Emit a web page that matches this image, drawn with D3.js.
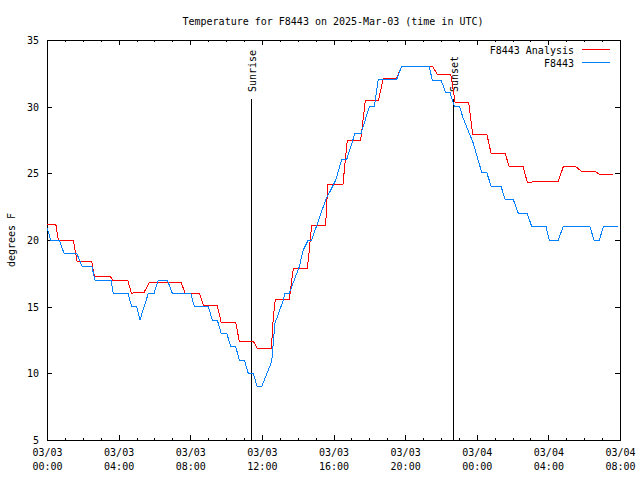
<!DOCTYPE html>
<html>
<head>
<meta charset="utf-8">
<script src="https://cdn.jsdelivr.net/npm/d3@7"></script>
<style>
  html, body { margin: 0; padding: 0; background: #fff; }
  svg text { font-family: "DejaVu Sans Mono", "Liberation Mono", monospace; font-size: 10px; fill: #000; }
</style>
</head>
<body>
<svg id="chart" width="640" height="480"></svg>
<script>
// ---- data (hours after 2025-03-03 00:00 UTC, degrees F) ----
const titleText = "Temperature for F8443 on 2025-Mar-03 (time in UTC)";
const yLabel = "degrees F";
const seriesNames = ["F8443 Analysis", "F8443"];
const seriesColors = ["#ff0000", "#0080ff"];

const analysisHours = [0, 0.49, 0.63, 1.47, 1.68, 2.50, 2.64, 3.52, 3.67, 4.51, 4.71, 5.10, 5.43, 5.71,
  7.50, 7.71, 8.51, 8.73, 9.51, 9.73, 10.54, 10.74, 11.52, 11.74, 12.53, 12.64, 12.75, 13.53, 13.76,
  14.54, 14.63, 14.78, 15.56, 15.68, 16.53, 16.77, 17.52, 17.78, 18.52, 18.78, 19.53, 19.81, 21.52,
  21.78, 22.55, 22.79, 23.55, 23.77, 24.56, 24.80, 25.58, 25.82, 26.60, 26.82, 27.72, 28.55, 28.83,
  29.54, 29.86, 30.60, 30.85, 31.59];
const analysisTemps = [21.2, 21.2, 20.0, 20.0, 18.4, 18.4, 17.3, 17.3, 17.0, 17.0, 16.0, 16.1, 16.1, 16.8,
  16.8, 16.0, 16.0, 15.1, 15.1, 13.8, 13.8, 12.4, 12.4, 11.9, 11.9, 14.2, 15.55, 15.55, 17.9,
  17.9, 19.0, 21.1, 21.1, 24.2, 24.2, 27.5, 27.5, 30.5, 30.5, 32.15, 32.15, 33.05, 33.05,
  32.45, 32.45, 30.35, 30.35, 27.95, 27.95, 26.5, 26.5, 25.48, 25.48, 24.33, 24.4, 24.4, 25.48,
  25.48, 25.15, 25.15, 24.93, 24.93];

const obsHours = [0, 0.21, 0.69, 0.95, 1.66, 1.95, 2.50, 2.68, 3.57, 3.70, 4.52, 4.73, 5.01, 5.19, 5.66,
  5.98, 6.22, 6.72, 7.00, 8.03, 8.23, 9.01, 9.23, 9.51, 9.73, 10.04, 10.26, 10.54, 10.74, 11.02, 11.24,
  11.52, 11.74, 11.99, 12.55, 12.73, 13.20, 13.29, 13.53, 14.09, 14.31, 14.59, 14.78, 15.56, 16.13,
  16.46, 16.74, 17.20, 17.54, 18.00, 18.28, 18.50, 19.53, 19.81, 21.33, 21.52, 22.00, 22.27, 22.51,
  22.75, 23.03, 23.25, 23.81, 24.28, 24.56, 24.80, 25.35, 25.58, 26.04, 26.32, 26.82, 27.07, 27.87,
  28.05, 28.55, 28.83, 30.32, 30.55, 30.85, 31.07, 31.87];
const obsTemps = [20.9, 20.0, 20.0, 19.0, 19.0, 18.05, 18.05, 17.0, 17.0, 16.0, 16.0, 15.0, 15.0, 14.0, 16.0,
  16.0, 17.0, 17.0, 16.0, 16.0, 15.0, 15.0, 14.0, 14.0, 13.0, 13.0, 12.0, 12.0, 11.0, 11.0, 10.0,
  10.0, 9.0, 9.0, 10.9, 13.75, 15.5, 16.0, 16.0, 18.0, 19.25, 20.0, 20.0, 23.0, 24.5,
  26.05, 26.05, 28.0, 28.0, 30.0, 30.0, 32.05, 32.05, 33.05, 33.05, 32.0, 32.0, 31.05, 31.05,
  30.05, 30.05, 29.1, 27.25, 25.05, 25.05, 24.05, 24.05, 23.05, 23.05, 22.0, 22.0, 21.0, 21.0,
  20.0, 20.0, 21.0, 21.0, 20.0, 20.0, 21.0, 21.0];

const eventLabels = ["Sunrise", "Sunset"];
const eventHours = [11.39, 22.70];

const yTicks = [5, 10, 15, 20, 25, 30, 35];
const startMs = Date.UTC(2025, 2, 3, 0, 0);
const endMs = Date.UTC(2025, 2, 4, 8, 0);

// ---- layout ----
const svg = d3.select("#chart");
const L = 47, R = 620, T = 40, B = 440;
const toDate = h => new Date(startMs + h * 3600e3);

const x = d3.scaleUtc().domain([new Date(startMs), new Date(endMs)]).range([L, R]);
const y = d3.scaleLinear().domain([5, 35]).range([B, T]);

const pad = n => String(n).padStart(2, "0");

// minor ticks (hourly) bottom & top
const minorTicks = x.ticks(d3.utcHour.every(1));
const majorTicks = x.ticks(d3.utcHour.every(4));

const gx = svg.append("g").attr("transform", `translate(0,${B})`)
  .call(d3.axisBottom(x).tickValues(minorTicks).tickSize(-2).tickFormat(""));
gx.select(".domain").remove();
const gxt = svg.append("g").attr("transform", `translate(0,${T})`)
  .call(d3.axisTop(x).tickValues(minorTicks).tickSize(-2).tickFormat(""));
gxt.select(".domain").remove();

const gxM = svg.append("g").attr("transform", `translate(0,${B})`)
  .call(d3.axisBottom(x).tickValues(majorTicks).tickSize(-5).tickPadding(0).tickFormat(""));
gxM.select(".domain").remove();
gxM.selectAll(".tick").each(function(d) {
  const t = d3.select(this).append("text").attr("text-anchor", "middle").attr("fill", "#000");
  t.append("tspan").attr("x", 0).attr("y", 16).text(pad(d.getUTCMonth() + 1) + "/" + pad(d.getUTCDate()));
  t.append("tspan").attr("x", 0).attr("y", 30).text(pad(d.getUTCHours()) + ":" + pad(d.getUTCMinutes()));
});
const gxMt = svg.append("g").attr("transform", `translate(0,${T})`)
  .call(d3.axisTop(x).tickValues(majorTicks).tickSize(-5).tickFormat(""));
gxMt.select(".domain").remove();

const gy = svg.append("g").attr("transform", `translate(${L},0)`)
  .call(d3.axisLeft(y).tickValues(yTicks).tickSize(-5).tickPadding(8).tickFormat(d3.format("d")));
gy.select(".domain").remove();
gy.selectAll("text").attr("dy", "0.35em");
const gyr = svg.append("g").attr("transform", `translate(${R},0)`)
  .call(d3.axisRight(y).tickValues(yTicks).tickSize(-5).tickFormat(""));
gyr.select(".domain").remove();

svg.selectAll(".tick line").attr("stroke", "#000").attr("shape-rendering", "crispEdges");
svg.selectAll(".tick text").style("font-family", "'DejaVu Sans Mono', monospace").style("font-size", "10px");

// frame
svg.append("rect").attr("x", L + 0.5).attr("y", T + 0.5).attr("width", R - L).attr("height", B - T)
  .attr("fill", "none").attr("stroke", "#000").attr("shape-rendering", "crispEdges");

// sunrise / sunset
eventHours.forEach((h, i) => {
  const ex = Math.round(x(toDate(h))) + 0.5;
  svg.append("line").attr("x1", ex).attr("x2", ex).attr("y1", 99).attr("y2", B)
    .attr("stroke", "#000").attr("shape-rendering", "crispEdges");
  svg.append("text").attr("transform", `translate(${ex + 1},92) rotate(-90)`)
    .attr("text-anchor", "start").attr("dominant-baseline", "central").text(eventLabels[i]);
});

// series
const line = d3.line().x(d => x(toDate(d[0]))).y(d => y(d[1]));
const analysis = analysisHours.map((h, i) => [h, analysisTemps[i]]);
const obs = obsHours.map((h, i) => [h, obsTemps[i]]);

svg.append("path").datum(analysis).attr("d", line).attr("fill", "none")
  .attr("stroke", seriesColors[0]).attr("stroke-width", 1).attr("shape-rendering", "crispEdges");
svg.append("path").datum(obs).attr("d", line).attr("fill", "none")
  .attr("stroke", seriesColors[1]).attr("stroke-width", 1).attr("shape-rendering", "crispEdges");

// legend
seriesNames.forEach((n, i) => {
  const ly = 50 + i * 13;
  svg.append("text").attr("x", 574).attr("y", ly).attr("text-anchor", "end")
    .attr("dominant-baseline", "central").text(n);
  svg.append("line").attr("x1", 582).attr("x2", 610).attr("y1", ly - 0.5).attr("y2", ly - 0.5)
    .attr("stroke", seriesColors[i]).attr("shape-rendering", "crispEdges");
});

// title & y label
svg.append("text").attr("x", 333).attr("y", 21).attr("text-anchor", "middle")
  .attr("dominant-baseline", "central").text(titleText);
svg.append("text").attr("transform", `translate(11,240) rotate(-90)`).attr("text-anchor", "middle")
  .attr("dominant-baseline", "central").text(yLabel);
</script>
</body>
</html>
